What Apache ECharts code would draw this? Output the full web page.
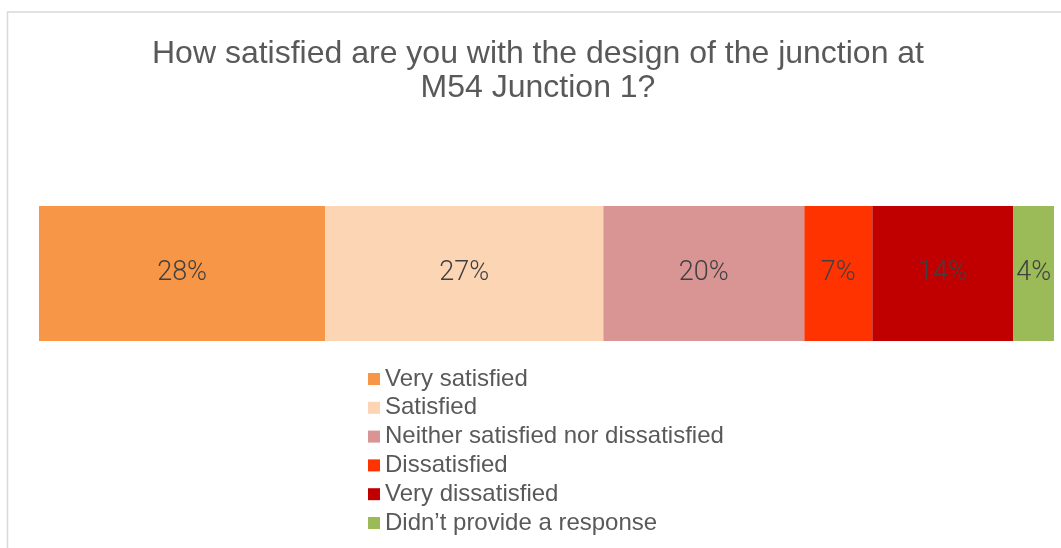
<!DOCTYPE html>
<html>
<head>
    <meta charset="UTF-8">
    <title>M54 Junction 1 satisfaction</title>
    <script src="https://cdn.jsdelivr.net/npm/echarts@6/dist/echarts.min.js"></script>
    <style>
        html, body { margin: 0; padding: 0; background: #fff; }
    </style>
</head>
<body>
<div id="chart" style="width:1061px; height:548px;"></div>
<script>
    // answers, in stacking order; shares (labels are rounded)
    var categories = ['Very satisfied', 'Satisfied', 'Neither satisfied nor dissatisfied',
        'Dissatisfied', 'Very dissatisfied', 'Didn\u2019t provide a response'];
    var percents = [28.2, 27.4, 19.8, 6.7, 13.9, 4.0];
    var colors = ['#F79646', '#FCD5B5', '#D99594', '#FF3300', '#C00000', '#9BBB59'];

    var chart = echarts.init(document.getElementById('chart'), null, {renderer: 'canvas'});

    var series = categories.map(function (name, i) {
        return {
            name: name,
            type: 'bar',
            stack: 'total',
            barWidth: '100%',
            data: [percents[i]],
            itemStyle: {color: colors[i]},
            label: {
                show: true,
                position: 'inside',
                formatter: function (p) { return Math.round(p.value) + '%'; },
                color: '#404040',
                fontSize: 27,
                fontWeight: 300,
                fontFamily: "Roboto, 'Liberation Sans', sans-serif"
            },
            emphasis: {disabled: true}
        };
    });

    chart.setOption({
        animation: false,
        title: {
            text: 'How satisfied are you with the design of the junction at\nM54 Junction 1?',
            left: 533,
            textAlign: 'center',
            top: 32,
            textStyle: {
                color: '#595959',
                fontSize: 32,
                fontWeight: 'normal',
                fontFamily: "'Liberation Sans', Arial, sans-serif",
                lineHeight: 34
            }
        },
        graphic: [{
            type: 'rect',
            shape: {x: 7.5, y: 12, width: 1100, height: 600},
            style: {fill: 'none', stroke: '#d9d9d9', lineWidth: 1.5},
            silent: true
        }],
        legend: {
            orient: 'vertical',
            left: 368,
            top: 367,
            padding: 0,
            icon: 'rect',
            itemWidth: 12,
            itemHeight: 12,
            itemGap: 4.8,
            selectedMode: false,
            data: categories,
            textStyle: {
                color: '#595959',
                fontSize: 24,
                lineHeight: 24,
                fontFamily: "'Liberation Sans', Arial, sans-serif"
            }
        },
        grid: {left: 39, right: 7, top: 206, height: 135},
        xAxis: {type: 'value', min: 0, max: 100, show: false},
        yAxis: {type: 'category', data: [''], show: false},
        series: series
    });
</script>
</body>
</html>
